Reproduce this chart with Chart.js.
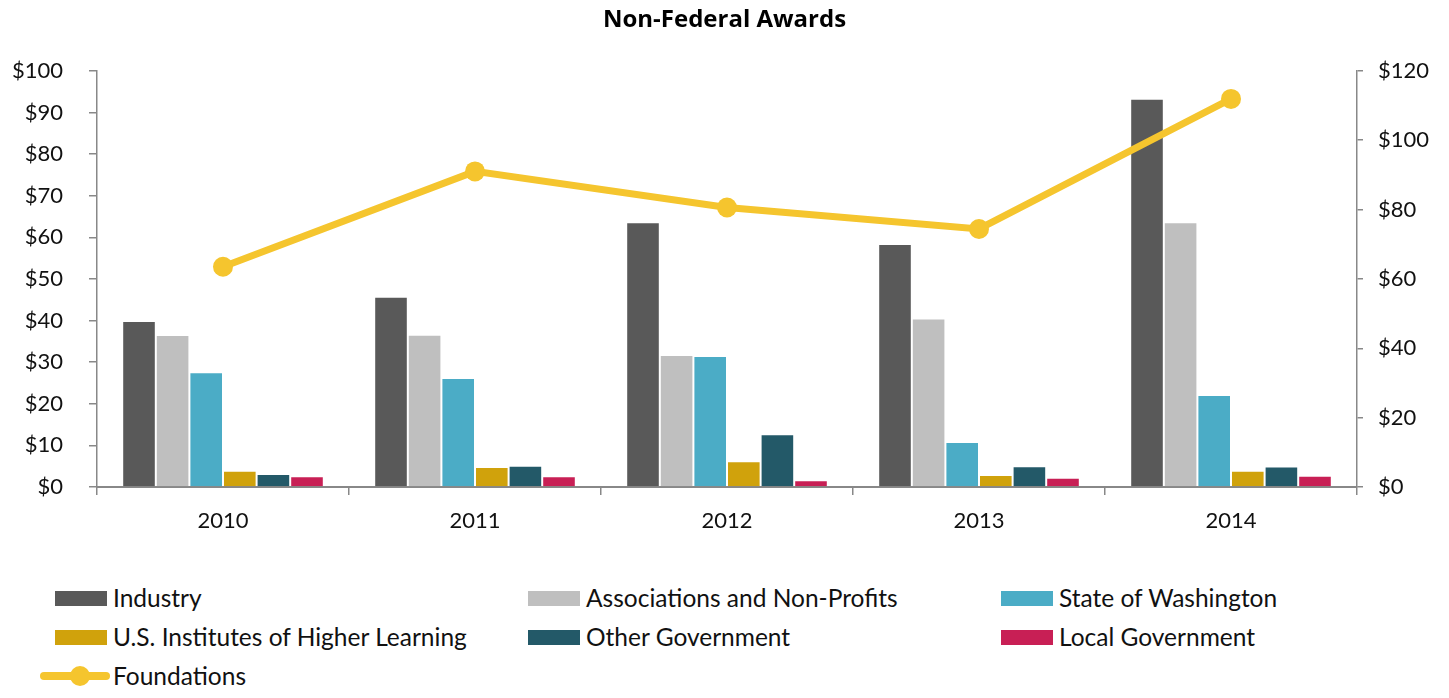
<!DOCTYPE html>
<html>
<head>
<meta charset="utf-8">
<script src="https://cdn.jsdelivr.net/npm/chart.js@4/dist/chart.umd.min.js"></script>
<style>
  body { margin: 0; background: #fff; font-family: Lato, 'Open Sans', sans-serif; }
  .wrap { position: relative; width: 1449px; height: 698px; }
  .chart-box { position: absolute; left: 0; top: 0; width: 1449px; height: 560px; }
  .legend { position: absolute; left: 0; top: 584px; width: 1449px; }
  .legend-item { position: absolute; display: flex; align-items: center; font-size: 24.5px; line-height: 28px; color: #111; white-space: nowrap; }
  .legend-swatch { width: 52px; height: 15px; margin-right: 6px; }
  .legend-line { position: relative; width: 70px; height: 20px; margin-right: 3px; }
  .legend-line .bar { position: absolute; left: 0; top: 6px; width: 70px; height: 8px; border-radius: 4px; }
  .legend-line .dot { position: absolute; left: 30px; top: 0; width: 20px; height: 20px; border-radius: 50%; }
</style>
</head>
<body>
<div class="wrap">
  <div class="chart-box"><canvas id="awards"></canvas></div>
  <div class="legend" id="legend"></div>
</div>
<script>
const years = ['2010', '2011', '2012', '2013', '2014'];
const industry = [39.9, 45.7, 63.6, 58.4, 93.3];
const associations = [36.5, 36.6, 31.7, 40.5, 63.6];
const stateWA = [27.6, 26.2, 31.5, 10.8, 22.1];
const usInstitutes = [3.9, 4.8, 6.2, 2.9, 3.9];
const otherGov = [3.1, 5.1, 12.7, 5.0, 4.9];
const localGov = [2.6, 2.6, 1.6, 2.2, 2.7];
const foundations = [63.5, 91.0, 80.6, 74.4, 111.9];

const leftTicks = { min: 0, max: 100, step: 10 };
const rightTicks = { min: 0, max: 120, step: 20 };

const barSeries = [
  { label: 'Industry', data: industry, color: '#595959' },
  { label: 'Associations and Non-Profits', data: associations, color: '#BFBFBF' },
  { label: 'State of Washington', data: stateWA, color: '#4BACC6' },
  { label: 'U.S. Institutes of Higher Learning', data: usInstitutes, color: '#D0A20C' },
  { label: 'Other Government', data: otherGov, color: '#235968' },
  { label: 'Local Government', data: localGov, color: '#C81F55' },
];
const lineColor = '#F5C52E';

const datasets = barSeries.map(s => ({
  type: 'bar',
  label: s.label,
  data: s.data,
  backgroundColor: s.color,
  borderColor: 'rgba(255,255,255,0.35)',
  borderWidth: 1,
  yAxisID: 'y',
  order: 1,
  categoryPercentage: 0.8,
  barPercentage: 1.0,
}));
datasets.push({
  type: 'line',
  label: 'Foundations',
  data: foundations,
  borderColor: lineColor,
  backgroundColor: lineColor,
  borderWidth: 7,
  pointRadius: 10,
  pointBorderWidth: 0,
  pointBackgroundColor: lineColor,
  yAxisID: 'y1',
  order: 0,
  tension: 0,
});

const axisFont = { family: 'Lato', size: 22 };
const money = v => '$' + v;

new Chart(document.getElementById('awards'), {
  data: { labels: years, datasets: datasets },
  options: {
    responsive: true,
    maintainAspectRatio: false,
    animation: false,
    layout: { padding: 0 },
    plugins: {
      legend: { display: false },
      tooltip: { enabled: false },
      title: {
        display: true,
        text: 'Non-Federal Awards',
        color: '#000',
        font: { family: 'Open Sans', size: 24, weight: 'bold' },
        padding: { top: 6, bottom: 36 },
      },
    },
    scales: {
      x: {
        offset: true,
        grid: { display: true, offset: true, drawOnChartArea: false, drawTicks: true, tickLength: 8, color: '#888', lineWidth: 1.5 },
        border: { display: true, color: '#888', width: 2 },
        ticks: { color: '#111', font: axisFont, padding: 13, maxRotation: 0 },
        afterFit: s => { s.height = 73; },
      },
      y: {
        position: 'left',
        min: leftTicks.min,
        max: leftTicks.max,
        grid: { drawOnChartArea: false, drawTicks: true, tickLength: 8, color: '#888', lineWidth: 1.5 },
        border: { display: true, color: '#888', width: 1.5 },
        ticks: { stepSize: leftTicks.step, color: '#111', font: axisFont, padding: 26, callback: money },
        afterFit: s => { s.width = 97; },
      },
      y1: {
        position: 'right',
        min: rightTicks.min,
        max: rightTicks.max,
        grid: { drawOnChartArea: false, drawTicks: true, tickLength: 6, color: '#888', lineWidth: 1.5 },
        border: { display: true, color: '#888', width: 1.5 },
        ticks: { stepSize: rightTicks.step, color: '#111', font: axisFont, padding: 15, callback: money },
        afterFit: s => { s.width = 92; },
      },
    },
  },
});

// legend, three columns
const legendEl = document.getElementById('legend');
const colX = [55, 528, 1001];
const rowY = [0, 39, 78];
barSeries.forEach((s, i) => {
  const item = document.createElement('div');
  item.className = 'legend-item';
  item.style.left = colX[i % 3] + 'px';
  item.style.top = rowY[Math.floor(i / 3)] + 'px';
  item.innerHTML = '<div class="legend-swatch" style="background:' + s.color + '"></div><span>' + s.label + '</span>';
  legendEl.appendChild(item);
});
const lineItem = document.createElement('div');
lineItem.className = 'legend-item';
lineItem.style.left = '40px';
lineItem.style.top = rowY[2] + 'px';
lineItem.innerHTML = '<div class="legend-line"><div class="bar" style="background:' + lineColor + '"></div><div class="dot" style="background:' + lineColor + '"></div></div><span>Foundations</span>';
legendEl.appendChild(lineItem);
</script>
</body>
</html>
